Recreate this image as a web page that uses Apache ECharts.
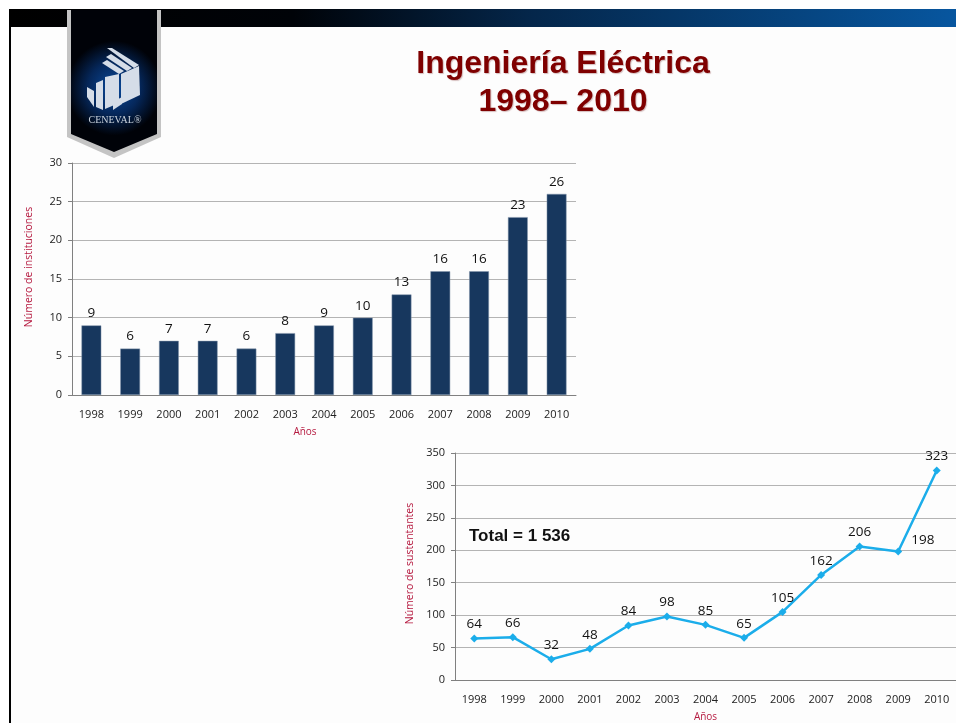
<!DOCTYPE html>
<html>
<head>
<meta charset="utf-8">
<style>
  html, body { margin: 0; padding: 0; background: #fff; }
  #main { width: 956px; height: 723px; }
</style>
<script src="https://cdn.jsdelivr.net/npm/echarts@6/dist/echarts.min.js"></script>
</head>
<body>
<div id="main"></div>
<script>
var years = ['1998','1999','2000','2001','2002','2003','2004','2005','2006','2007','2008','2009','2010'];
var instituciones = [9, 6, 7, 7, 6, 8, 9, 10, 13, 16, 16, 23, 26];
var sustentantes = [64, 66, 32, 48, 84, 98, 85, 65, 105, 162, 206, 198, 323];
var tituloLineas = ['Ingeniería Eléctrica', '1998– 2010'];
var totalTexto = 'Total = 1 536';

var font = '"Open Sans", "Noto Sans", sans-serif';
var rojo = '#b5193f';

var myChart = echarts.init(document.getElementById('main'));

// el marco y el logo no son datos, van como graphic
function logo() {
  var color = '#d5dde8';
  var polys = [
    [[107,48],[112,48],[139,65],[134,68]],
    [[106,57],[111,54],[132,68],[127,71]],
    [[102,63],[107,60],[124,71],[119,74]],
    [[105,77],[119,74],[119,103],[105,109]],
    [[121,74],[139,66],[140,95],[121,104]],
    [[87,87],[94,91],[94,107],[87,97]],
    [[96,83],[103,80],[103,110],[96,107]],
    [[113,102],[122,97],[122,104],[113,110]],
    [[123,84],[131,80],[131,97],[123,101]]
  ];
  return polys.map(function (p) {
    return { type: 'polygon', z: 12, shape: { points: p }, style: { fill: color } };
  });
}

var fondo = [
  { type: 'rect', z: 1, shape: { x: 0, y: 0, width: 956, height: 9 }, style: { fill: '#fff' } },
  { type: 'rect', z: 1, shape: { x: 0, y: 0, width: 9, height: 723 }, style: { fill: '#fff' } },
  { type: 'rect', z: 2, shape: { x: 9, y: 9, width: 947, height: 18 },
    style: { fill: new echarts.graphic.LinearGradient(0, 0, 1, 0, [
      { offset: 0, color: '#000000' }, { offset: 0.3, color: '#000308' },
      { offset: 0.55, color: '#04264a' }, { offset: 1, color: '#07569f' }
    ]) } },
  { type: 'rect', z: 2, shape: { x: 9, y: 9, width: 2, height: 714 }, style: { fill: '#000' } },
  { type: 'polygon', z: 10, shape: { points: [[67,10],[161,10],[161,137],[114,158],[67,137]] }, style: { fill: '#c4c4c4' } },
  { type: 'polygon', z: 11, shape: { points: [[71,10],[157,10],[157,134],[114,152],[71,134]] },
    style: { fill: new echarts.graphic.RadialGradient(0.5, 0.55, 0.55, [
      { offset: 0, color: '#0a4a9c' }, { offset: 0.55, color: '#05275a' }, { offset: 1, color: '#000208' }
    ]) } },
  { type: 'text', z: 12, style: { x: 115, y: 120, text: 'CENEVAL®', fill: '#c9d2dc', font: '10px "Liberation Serif", serif', align: 'center', verticalAlign: 'middle' } }
].concat(logo());

var option = {
  backgroundColor: '#fdfdfd',
  animation: false,
  title: [
    { text: tituloLineas.join('\n'), left: 558, top: 40, textAlign: 'center',
      textStyle: { fontFamily: '"Liberation Sans", Arial, sans-serif', fontSize: 32, fontWeight: 'bold', color: '#7f0000', lineHeight: 38,
        textShadowColor: 'rgba(90,0,0,0.25)', textShadowBlur: 1, textShadowOffsetX: 1, textShadowOffsetY: 1 } },
    { text: totalTexto, left: 464, top: 523,
      textStyle: { fontFamily: '"Liberation Sans", Arial, sans-serif', fontSize: 17, fontWeight: 'bold', color: '#111' } }
  ],
  graphic: fondo,
  grid: [
    { left: 72, top: 163, width: 504, height: 232 },
    { left: 455, top: 453, width: 501, height: 227 }
  ],
  xAxis: [0, 1].map(function (i) {
    return {
      gridIndex: i,
      type: 'category',
      data: years,
      name: 'Años',
      nameLocation: 'middle',
      nameGap: 32,
      // en el primero "Años" no esta centrado, queda a la izquierda
      nameTextStyle: { color: rojo, fontFamily: font, fontSize: 10, padding: i === 0 ? [0, 38, 0, 0] : 0 },
      axisLine: { lineStyle: { color: '#808080', width: 1 } },
      axisTick: { show: false },
      axisLabel: { color: '#222', fontFamily: font, fontSize: 11, margin: 14, interval: 0 }
    };
  }),
  yAxis: [
    { gridIndex: 0, type: 'value', min: 0, max: 30, interval: 5 },
    { gridIndex: 1, type: 'value', min: 0, max: 350, interval: 50 }
  ].map(function (y, i) {
    y.name = i === 0 ? 'Número de instituciones' : 'Número de sustentantes';
    y.nameLocation = 'middle';
    y.nameGap = i === 0 ? 37 : 38;
    y.nameTextStyle = { color: rojo, fontFamily: font, fontSize: 10.5, padding: i === 0 ? [0, 0, 0, 24] : [0, 0, 0, 6] };
    y.axisLine = { show: true, lineStyle: { color: '#808080', width: 1 } };
    y.axisTick = { show: true, length: 4, lineStyle: { color: '#808080' } };
    y.axisLabel = { color: '#222', fontFamily: font, fontSize: 11, margin: 10 };
    y.splitLine = { lineStyle: { color: '#b4b4b4', width: 1 } };
    return y;
  }),
  series: [
    {
      type: 'bar',
      xAxisIndex: 0,
      yAxisIndex: 0,
      data: instituciones,
      barWidth: '51%',
      itemStyle: { color: '#17375e', borderColor: '#8496ad', borderWidth: 0.5 },
      label: { show: true, position: 'top', distance: 5, color: '#111', fontFamily: font, fontSize: 13.5 }
    },
    {
      type: 'line',
      xAxisIndex: 1,
      yAxisIndex: 1,
      data: sustentantes.map(function (v, i) {
        // 198 va a la derecha del punto, no encima
        if (years[i] === '2009') {
          return { value: v, label: { position: 'right', offset: [6, -11] } };
        }
        return v;
      }),
      symbol: 'diamond',
      symbolSize: 8,
      lineStyle: { color: '#1badea', width: 2.5 },
      itemStyle: { color: '#1badea' },
      label: { show: true, position: 'top', distance: 3, color: '#111', fontFamily: font, fontSize: 13.5 }
    }
  ]
};
myChart.setOption(option);
</script>
</body>
</html>
